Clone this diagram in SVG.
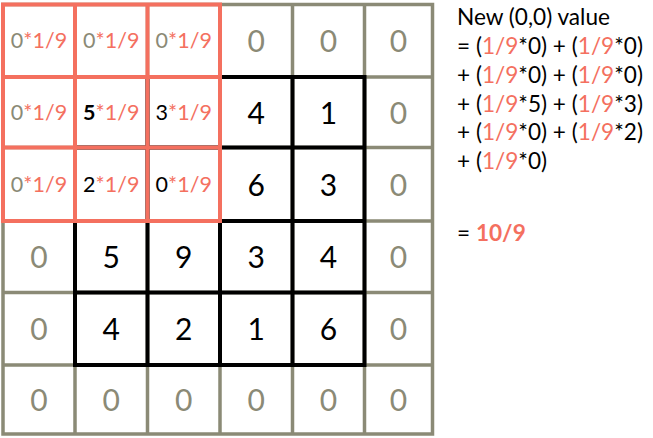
<svg xmlns="http://www.w3.org/2000/svg" width="653" height="438" viewBox="0 0 653 438">
<style>
text{font-family:Lato,"Open Sans","DejaVu Sans",sans-serif}
.big{font-size:30px;text-anchor:middle}
.sm{font-size:21.5px;text-anchor:middle}
.eq{font-size:22.6px}
.g{fill:#8b8a76}
.k{fill:#000}
.r{fill:#f4705f}
.b{font-weight:bold}
.gl{fill:none;stroke:#8b8a76;stroke-width:3.5}
.bl{fill:none;stroke:#000;stroke-width:4}
.rl{fill:none;stroke:#f4705f;stroke-width:4}
</style>
<rect width="653" height="438" fill="#fff"/>
<g id="grid-gray">
<rect class="gl" x="3" y="4.5" width="429.5" height="429.5"/>
<path class="gl" d="M75 4.5V434M147.5 4.5V434M220 4.5V434M292.5 4.5V434M364.5 4.5V434M3 77H432.5M3 147.5H432.5M3 221H432.5M3 292.5H432.5M3 365H432.5"/>
</g>
<g id="grid-image">
<rect class="bl" x="75" y="77" width="289.5" height="288"/>
<path class="bl" d="M147.5 77V365M220 77V365M292.5 77V365M75 147.5H364.5M75 221H364.5M75 292.5H364.5"/>
</g>
<g id="grid-kernel">
<rect class="rl" x="3" y="4.5" width="217" height="216.5"/>
<path class="rl" d="M75 4.5V221M147.5 4.5V221M3 77H220M3 147.5H220"/>
</g>
<g id="kernel-cells">
<text class="sm" x="39" y="48"><tspan class="g">0</tspan><tspan class="r">*1/9</tspan></text>
<text class="sm" x="111.25" y="48"><tspan class="g">0</tspan><tspan class="r">*1/9</tspan></text>
<text class="sm" x="183.75" y="48"><tspan class="g">0</tspan><tspan class="r">*1/9</tspan></text>
<text class="sm" x="39" y="119.5"><tspan class="g">0</tspan><tspan class="r">*1/9</tspan></text>
<text class="sm" x="111.25" y="119.5"><tspan class="k b">5</tspan><tspan class="r">*1/9</tspan></text>
<text class="sm" x="183.75" y="119.5"><tspan class="k">3</tspan><tspan class="r">*1/9</tspan></text>
<text class="sm" x="39" y="191.5"><tspan class="g">0</tspan><tspan class="r">*1/9</tspan></text>
<text class="sm" x="111.25" y="191.5"><tspan class="k">2</tspan><tspan class="r">*1/9</tspan></text>
<text class="sm" x="183.75" y="191.5"><tspan class="k">0</tspan><tspan class="r">*1/9</tspan></text>
</g>
<g id="cells">
<text class="big g" x="256.25" y="52">0</text>
<text class="big g" x="328.5" y="52">0</text>
<text class="big g" x="398.5" y="52">0</text>
<text class="big k" x="256.25" y="123.5">4</text>
<text class="big k" x="328.5" y="123.5">1</text>
<text class="big g" x="398.5" y="123.5">0</text>
<text class="big k" x="256.25" y="195.5">6</text>
<text class="big k" x="328.5" y="195.5">3</text>
<text class="big g" x="398.5" y="195.5">0</text>
<text class="big g" x="39" y="268">0</text>
<text class="big k" x="111.25" y="268">5</text>
<text class="big k" x="183.75" y="268">9</text>
<text class="big k" x="256.25" y="268">3</text>
<text class="big k" x="328.5" y="268">4</text>
<text class="big g" x="398.5" y="268">0</text>
<text class="big g" x="39" y="340">0</text>
<text class="big k" x="111.25" y="340">4</text>
<text class="big k" x="183.75" y="340">2</text>
<text class="big k" x="256.25" y="340">1</text>
<text class="big k" x="328.5" y="340">6</text>
<text class="big g" x="398.5" y="340">0</text>
<text class="big g" x="39" y="410.5">0</text>
<text class="big g" x="111.25" y="410.5">0</text>
<text class="big g" x="183.75" y="410.5">0</text>
<text class="big g" x="256.25" y="410.5">0</text>
<text class="big g" x="328.5" y="410.5">0</text>
<text class="big g" x="398.5" y="410.5">0</text>
</g>
<g id="equation" class="eq">
<text x="457" y="25">New (0,0) value</text>
<text x="457" y="54">= (<tspan class="r">1/9</tspan>*0) + (<tspan class="r">1/9</tspan>*0)</text>
<text x="457" y="83">+ (<tspan class="r">1/9</tspan>*0) + (<tspan class="r">1/9</tspan>*0)</text>
<text x="457" y="112">+ (<tspan class="r">1/9</tspan>*5) + (<tspan class="r">1/9</tspan>*3)</text>
<text x="457" y="140">+ (<tspan class="r">1/9</tspan>*0) + (<tspan class="r">1/9</tspan>*2)</text>
<text x="457" y="169">+ (<tspan class="r">1/9</tspan>*0)</text>
<text x="457" y="241">= <tspan class="r b">10/9</tspan></text>
</g>
</svg>
